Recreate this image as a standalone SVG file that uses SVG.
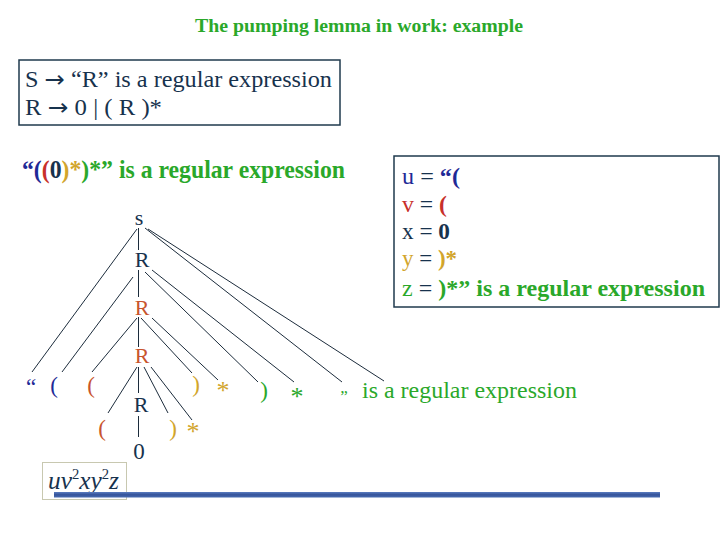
<svg xmlns="http://www.w3.org/2000/svg" width="720" height="540" viewBox="0 0 720 540" font-family="'Liberation Serif', 'DejaVu Serif', serif">
<defs>
<linearGradient id="bar" x1="0" y1="0" x2="0" y2="1">
<stop offset="0" stop-color="#5a7cc0"/>
<stop offset="0.5" stop-color="#34539a"/>
<stop offset="1" stop-color="#4a6db2"/>
</linearGradient>
</defs>
<style>
.b{font-weight:bold;}
.nv{fill:#17324d;}
.bl{fill:#1f2a96;}
.rd{fill:#c8302a;}
.or{fill:#c8552d;}
.ye{fill:#d2a52c;}
.gr{fill:#2aa82a;}
.box{fill:none;stroke:#1f3a4d;stroke-width:1.5;}
.ln{stroke:#1c2c3c;stroke-width:1;fill:none;}
.arr{font-family:"DejaVu Sans",sans-serif;}
.t20{font-size:22px;}
.t22{font-size:23px;}
</style>
<rect width="720" height="540" fill="#ffffff"/>

<g id="title">
<text x="195" y="32" class="b gr" font-size="18.5" textLength="328" lengthAdjust="spacingAndGlyphs">The pumping lemma in work: example</text>
</g>

<g id="grammar">
<rect x="19" y="60" width="321" height="65" class="box"/>
<text x="25" y="87" class="nv" font-size="23" textLength="307" lengthAdjust="spacingAndGlyphs">S <tspan class="arr">→</tspan> “R” is a regular expression</text>
<text x="25" y="115" class="nv" font-size="23" textLength="137" lengthAdjust="spacingAndGlyphs">R <tspan class="arr">→</tspan> 0 | ( R )*</text>
</g>

<g id="statement">
<text x="22" y="178" class="b" font-size="24.5" textLength="323" lengthAdjust="spacingAndGlyphs"><tspan class="bl">“(</tspan><tspan class="rd">(</tspan><tspan class="nv">0</tspan><tspan class="ye">)*</tspan><tspan class="gr">)*” is a regular expression</tspan></text>
</g>

<g id="decomposition">
<rect x="394" y="156" width="325" height="151" class="box"/>
<text x="402" y="184" font-size="23.5" textLength="58" lengthAdjust="spacingAndGlyphs"><tspan class="bl">u</tspan><tspan class="nv"> = </tspan><tspan class="bl b">“(</tspan></text>
<text x="402" y="212" font-size="23.5" textLength="45" lengthAdjust="spacingAndGlyphs"><tspan class="rd">v</tspan><tspan class="nv"> = </tspan><tspan class="rd b">(</tspan></text>
<text x="402" y="239" font-size="23.5" textLength="48" lengthAdjust="spacingAndGlyphs"><tspan class="nv">x = </tspan><tspan class="nv b">0</tspan></text>
<text x="402" y="266" font-size="23.5" textLength="55" lengthAdjust="spacingAndGlyphs"><tspan class="ye">y</tspan><tspan class="nv"> = </tspan><tspan class="ye b">)*</tspan></text>
<text x="402" y="296" font-size="23.5" textLength="303" lengthAdjust="spacingAndGlyphs"><tspan class="gr">z</tspan><tspan class="nv"> = </tspan><tspan class="gr b">)*” is a regular expression</tspan></text>
</g>

<g id="connectors">
<line class="ln" x1="137" y1="229" x2="32" y2="372"/>
<line class="ln" x1="138.5" y1="228" x2="138.5" y2="250"/>
<line class="ln" x1="145" y1="228" x2="342" y2="382"/>
<line class="ln" x1="148" y1="229" x2="384" y2="381"/>
<line class="ln" x1="133" y1="277" x2="62" y2="372"/>
<line class="ln" x1="138.5" y1="270" x2="138.5" y2="297"/>
<line class="ln" x1="145" y1="272" x2="258" y2="382"/>
<line class="ln" x1="152" y1="270" x2="294" y2="382"/>
<line class="ln" x1="137" y1="318" x2="92" y2="372"/>
<line class="ln" x1="138.5" y1="317" x2="138.5" y2="347"/>
<line class="ln" x1="141" y1="318" x2="192" y2="373"/>
<line class="ln" x1="152" y1="318" x2="218" y2="380"/>
<line class="ln" x1="137" y1="367" x2="108" y2="413"/>
<line class="ln" x1="138.5" y1="367" x2="138.5" y2="393"/>
<line class="ln" x1="144" y1="367" x2="168" y2="413"/>
<line class="ln" x1="151" y1="367" x2="192" y2="420"/>
<line class="ln" x1="138.5" y1="416" x2="138.5" y2="437"/>
</g>

<g id="node-S"><text x="139" y="225" text-anchor="middle" class="t20 nv">s</text></g>
<g id="node-R1"><text x="142" y="267" text-anchor="middle" class="t20 nv">R</text></g>
<g id="node-R2"><text x="142" y="315" text-anchor="middle" class="t20 or">R</text></g>
<g id="node-R3"><text x="142" y="363" text-anchor="middle" class="t20 or">R</text></g>
<g id="node-R4"><text x="141" y="412" text-anchor="middle" class="t20 nv">R</text></g>
<g id="node-0"><text x="139" y="459" text-anchor="middle" class="t22 nv">0</text></g>

<g id="leaf-open-quote"><text x="31" y="395" text-anchor="middle" class="t22 bl">“</text></g>
<g id="leaf-paren1"><text x="54" y="393" text-anchor="middle" class="t22 bl">(</text></g>
<g id="leaf-paren2"><text x="91" y="393" text-anchor="middle" class="t22 or">(</text></g>
<g id="leaf-paren3"><text x="102" y="436" text-anchor="middle" class="t22 or">(</text></g>
<g id="leaf-close3"><text x="173" y="436" text-anchor="middle" class="t22 ye">)</text></g>
<g id="leaf-star3"><text x="193" y="440" text-anchor="middle" class="ye" font-size="26">*</text></g>
<g id="leaf-close2"><text x="196" y="392" text-anchor="middle" class="t22 ye">)</text></g>
<g id="leaf-star2"><text x="223" y="399" text-anchor="middle" class="ye" font-size="26">*</text></g>
<g id="leaf-close1"><text x="264" y="398" text-anchor="middle" class="t22 gr">)</text></g>
<g id="leaf-star1"><text x="297" y="405" text-anchor="middle" class="gr" font-size="26">*</text></g>
<g id="leaf-close-quote"><text x="344" y="402" text-anchor="middle" class="gr" font-size="17">”</text></g>
<g id="leaf-rest"><text x="362" y="398" class="gr" font-size="23.5" textLength="215" lengthAdjust="spacingAndGlyphs">is a regular expression</text></g>

<g id="result">
<rect x="42.5" y="462.5" width="84" height="37" fill="none" stroke="#c8c8b0" stroke-width="1"/>
<text x="48" y="489" class="nv" font-size="26" font-style="italic" textLength="71" lengthAdjust="spacingAndGlyphs">uv<tspan font-style="normal" font-size="15" dy="-10">2</tspan><tspan dy="10">xy</tspan><tspan font-style="normal" font-size="15" dy="-10">2</tspan><tspan dy="10">z</tspan></text>
</g>

<rect x="54" y="492" width="606" height="5.5" fill="url(#bar)"/>
</svg>
